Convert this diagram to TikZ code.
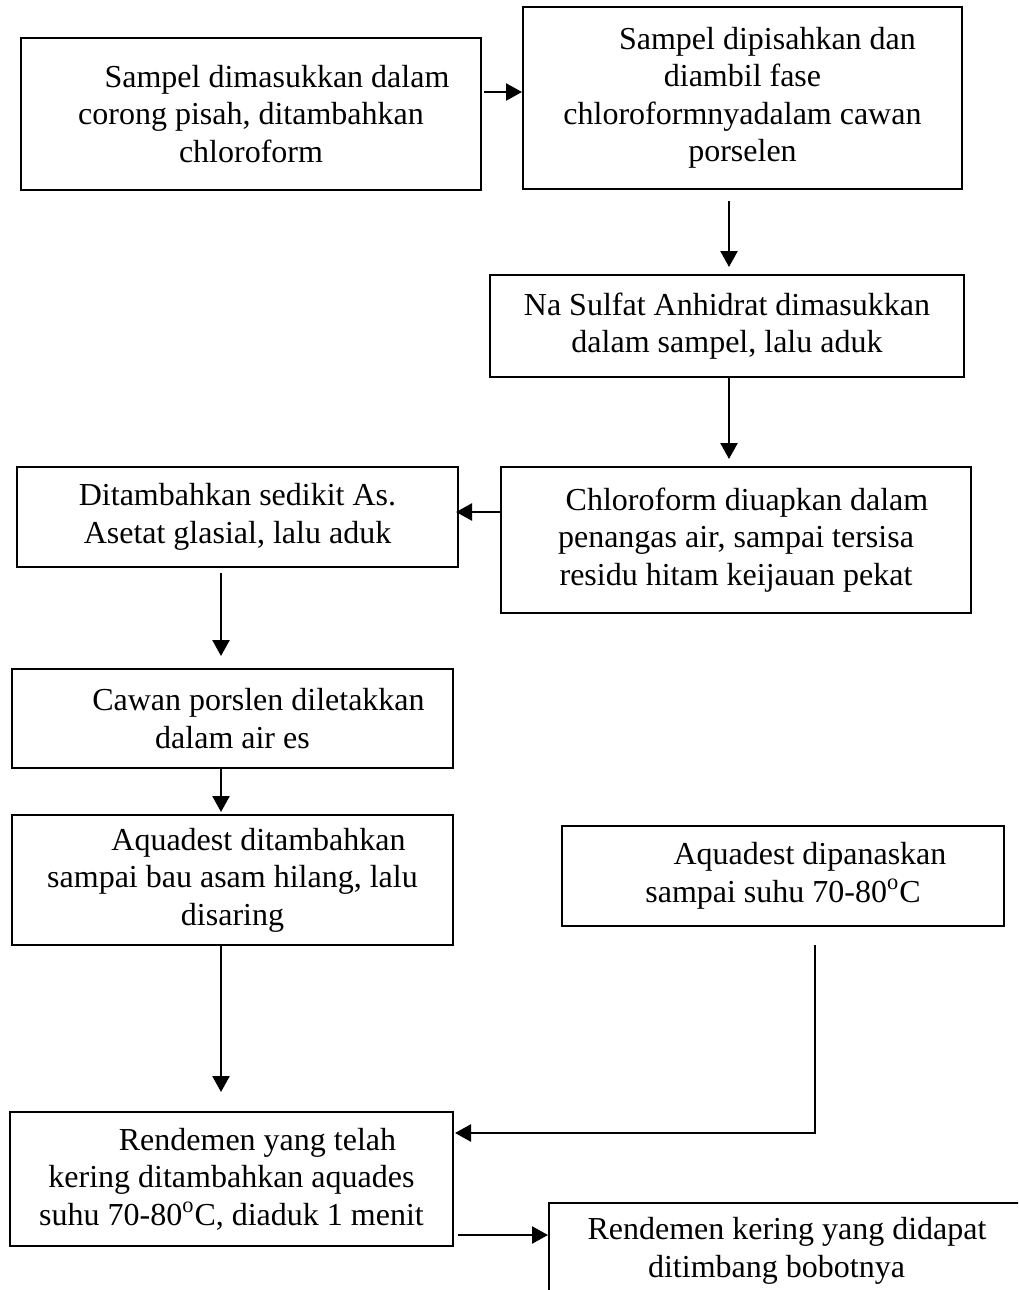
\documentclass[tikz,border=0pt]{standalone}
\usepackage{fontspec}
\setmainfont{Liberation Serif}
\usetikzlibrary{arrows.meta,calc}
\begin{document}
\begin{tikzpicture}[x=0.5pt,y=-0.5pt,
  box/.style={draw, line width=1pt, align=center, inner sep=0pt,
    font=\fontsize{16}{18.75}\selectfont},
  arr/.style={line width=1.2pt, -{Triangle[length=8pt,width=8.5pt]}}]
\useasboundingbox (0,0) rectangle (1018,1290);
\clip (0,0) rectangle (1018,1290);

\node[box, minimum width=230pt, minimum height=76pt] (b1) at (251,114)
  {\hspace*{26pt}Sampel dimasukkan dalam\\corong pisah, ditambahkan\\chloroform};
\node[box, minimum width=219.5pt, minimum height=91pt] (b2) at (742.5,98)
  {\hspace*{25pt}Sampel dipisahkan dan\\diambil fase\\chloroformnyadalam cawan\\porselen};
\node[box, minimum width=237pt, minimum height=51pt] (b3) at (727,326)
  {Na Sulfat Anhidrat dimasukkan\\dalam sampel, lalu aduk};
\node[box, minimum width=235pt, minimum height=73pt] (b4) at (736,540)
  {\hspace*{11pt}Chloroform diuapkan dalam\\penangas air, sampai tersisa\\residu hitam keijauan pekat};
\node[box, minimum width=220.5pt, minimum height=50pt] (b5) at (237.5,517)
  {Ditambahkan sedikit As.\\Asetat glasial, lalu aduk};
\node[box, minimum width=220.5pt, minimum height=49.5pt] (b6) at (232.5,718.5)
  {\hspace*{26pt}Cawan porslen diletakkan\\dalam air es};
\node[box, minimum width=220.5pt, minimum height=65pt] (b7) at (232.5,880)
  {\hspace*{26pt}Aquadest ditambahkan\\sampai bau asam hilang, lalu\\disaring};
\node[box, minimum width=221pt, minimum height=50pt] (b8) at (783,876)
  {\hspace*{27pt}Aquadest dipanaskan\\sampai suhu 70-80\textsuperscript{o}C};
\node[box, minimum width=221.5pt, minimum height=67pt] (b9) at (231.5,1179)
  {\hspace*{26pt}Rendemen yang telah\\kering ditambahkan aquades\\suhu 70-80\textsuperscript{o}C, diaduk 1 menit};
\node[box, minimum width=250pt, minimum height=48pt, anchor=north west] (b10) at (548,1202)
  {Rendemen kering yang didapat\hspace*{12pt}\\ditimbang bobotnya\hspace*{22.5pt}};

\coordinate (a1s) at ($(b1.east)+(2,-22)$);
\draw[arr] (a1s) -- (a1s -| b2.west);
\draw[arr] ($(b2.south)+(-13.5,11)$) -- ($(b3.north)+(2,-7)$);
\draw[arr] ($(b3.south)+(2,0)$) -- ($(b4.north)+(-7,-7)$);
\draw[arr] ($(b4.west)+(0,-28)$) -- ($(b5.east)+(-3,-5)$);
\draw[arr] ($(b5.south)+(-16.5,5)$) -- ($(b6.north)+(-11.5,-12)$);
\draw[arr] ($(b6.south)+(-11.5,0)$) -- ($(b7.north)+(-11.5,-2)$);
\draw[arr] ($(b7.south)+(-11.5,0)$) -- ($(b9.north)+(-10.5,-19)$);
\draw[arr] ($(b8.south)+(32,18)$) |- ($(b9.east)+(1,-46)$);
\coordinate (a8s) at ($(b9.east)+(4,56)$);
\draw[arr] (a8s) -- (a8s -| b10.west);
\end{tikzpicture}
\end{document}
